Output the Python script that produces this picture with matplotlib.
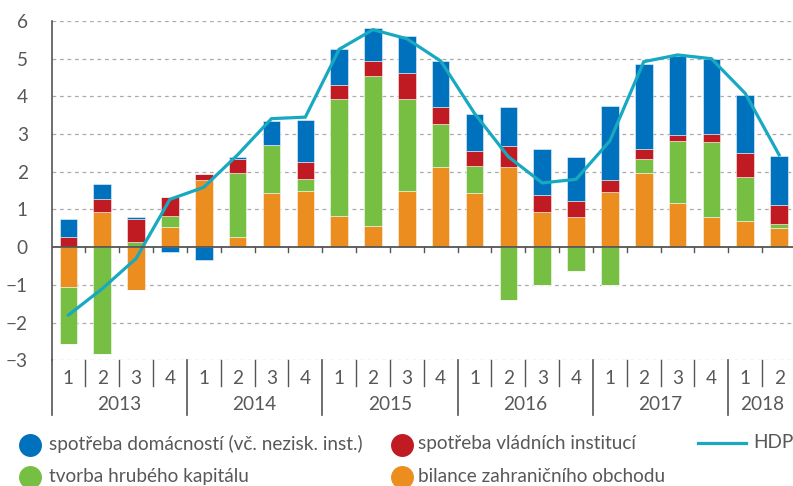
import matplotlib
matplotlib.use("Agg")
import matplotlib.pyplot as plt
import numpy as np
from matplotlib import transforms
from matplotlib.lines import Line2D

plt.rcParams['font.family'] = ['Lato', 'DejaVu Sans']

quarters = ['1', '2', '3', '4'] * 5 + ['1', '2']
years = ['2013', '2014', '2015', '2016', '2017', '2018']

households = [0.48, 0.41, 0.05, -0.13, -0.35, 0.035, 0.63, 1.105, 0.965, 0.88, 0.99,
              1.22, 0.965, 1.025, 1.22, 1.15, 1.955, 2.27, 2.10, 1.97, 1.55, 1.30]
government = [0.27, 0.325, 0.62, 0.51, 0.16, 0.37, 0.0, 0.45, 0.37, 0.40, 0.68,
              0.44, 0.405, 0.565, 0.445, 0.44, 0.33, 0.26, 0.14, 0.22, 0.625, 0.51]
capital = [-1.51, -2.84, 0.13, 0.30, 0.0, 1.715, 1.28, 0.33, 3.11, 3.955, 2.44,
           1.15, 0.705, -1.395, -0.99, -0.62, -0.99, 0.37, 1.66, 2.0, 1.175, 0.09]
trade = [-1.06, 0.945, -1.13, 0.53, 1.78, 0.265, 1.43, 1.49, 0.82, 0.575, 1.49,
         2.12, 1.45, 2.12, 0.935, 0.795, 1.46, 1.97, 1.17, 0.795, 0.69, 0.52]
hdp = [-1.80, -1.10, -0.30, 1.27, 1.59, 2.45, 3.41, 3.45, 5.25, 5.77, 5.53,
       4.94, 3.55, 2.40, 1.705, 1.80, 2.82, 4.92, 5.10, 5.00, 4.08, 2.45]

labels = ['spotřeba domácností (vč. nezisk. inst.)', 'spotřeba vládních institucí',
          'tvorba hrubého kapitálu', 'bilance zahraničního obchodu', 'HDP']

C_BLUE = '#0071bc'
C_RED = '#c01b22'
C_GREEN = '#76bf43'
C_ORANGE = '#ec8e1f'
C_LINE = '#17a9c1'
TXT = '#585858'

W, H = 793, 486
fig = plt.figure(figsize=(W / 100, H / 100), dpi=100)
ax = fig.add_axes([51.5 / W, 1 - 360.3 / H, (796 - 51.5) / W, (360.3 - 21) / H])

n = len(hdp)
x = np.arange(n)
pos_base = np.zeros(n)
neg_base = np.zeros(n)
for vals, col in [(trade, C_ORANGE), (capital, C_GREEN), (government, C_RED), (households, C_BLUE)]:
    v = np.array(vals)
    p = np.where(v > 0, v, 0)
    m = np.where(v < 0, v, 0)
    ax.bar(x, p, 0.52, bottom=pos_base, color=col, edgecolor=(1, 1, 1, 0.5), linewidth=0.7, zorder=3)
    ax.bar(x, m, 0.52, bottom=neg_base, color=col, edgecolor=(1, 1, 1, 0.5), linewidth=0.7, zorder=3)
    pos_base += p
    neg_base += m

ax.plot(x, hdp, color=C_LINE, lw=2.3, zorder=5, solid_joinstyle='miter')

ax.set_xlim(-0.5, n - 0.5)
ax.set_ylim(-3, 6)
for s in ['top', 'right', 'bottom']:
    ax.spines[s].set_visible(False)
ax.spines['left'].set_color('#555555')
ax.spines['left'].set_linewidth(1.2)
ax.set_xticks([])
ax.set_yticks(range(-3, 7))
ax.set_yticklabels([('\u2212' + str(-v)) if v < 0 else str(v) for v in range(-3, 7)],
                   fontsize=13.7, color=TXT)
ax.tick_params(axis='y', length=0, pad=17)
for v in range(-3, 7):
    if v != 0:
        ax.axhline(v, color='#aaaaaa', lw=0.9, ls=(0, (3, 3)), zorder=1)
ax.axhline(0, color='#555555', lw=1.3, zorder=6)

# small ticks under zero line
for k in range(1, n):
    ax.plot([k - 0.5, k - 0.5], [0, -0.14], color='#555555', lw=1.0, zorder=6)

# category axis below
bt = transforms.blended_transform_factory(ax.transData, fig.transFigure)
def fy(py):
    return 1 - py / H

for k in range(0, n + 1):
    bx = k - 0.5
    year_bound = (k % 4 == 0)
    y0 = 360.3
    y1 = 415 if year_bound else 386
    fig.add_artist(Line2D([bx, bx], [fy(y0), fy(y1)], transform=bt, color='#555555',
                          lw=1.2 if year_bound else 1.0, clip_on=False))
for k in range(n):
    fig.text(k, fy(378), quarters[k], transform=bt, ha='center', va='center',
             fontsize=13.7, color=TXT)
for i, yr in enumerate(years):
    start = i * 4
    end = min(start + 4, n)
    fig.text((start + end - 1) / 2, fy(404), yr, transform=bt, ha='center', va='center',
             fontsize=13.7, color=TXT)

# legend
def dot(px, py, col):
    fig.add_artist(Line2D([px / W], [fy(py)], marker='o', markersize=15.5, color=col,
                          linestyle='none', transform=fig.transFigure))

def ltext(px, py, s):
    fig.text(px / W, fy(py), s, ha='left', va='center', fontsize=13.7, color=TXT)

dot(30, 445, C_BLUE); ltext(49, 444, labels[0])
dot(402, 445, C_RED); ltext(418, 444, labels[1])
dot(30, 477, C_GREEN); ltext(49, 476, labels[2])
dot(402, 477, C_ORANGE); ltext(418, 476, labels[3])
fig.add_artist(Line2D([698 / W, 746 / W], [fy(443), fy(443)], color=C_LINE, lw=2.3,
                      transform=fig.transFigure))
ltext(753, 442, labels[4])

fig.savefig('out.png', dpi=100)
